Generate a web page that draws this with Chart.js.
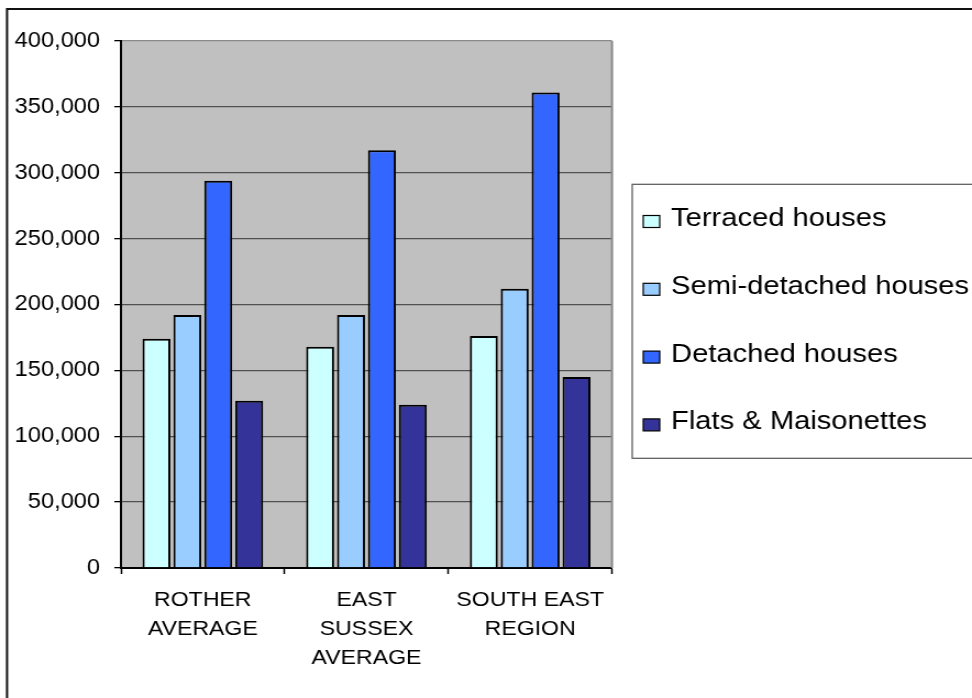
<!DOCTYPE html>
<html>
<head>
<meta charset="utf-8">
<script src="https://cdn.jsdelivr.net/npm/chart.js@4/dist/chart.umd.min.js"></script>
<style>
  html, body { margin: 0; padding: 0; background: #ffffff; overflow: hidden; }
</style>
</head>
<body>
<canvas id="c" width="884" height="698" style="display:block;width:972px;height:698px"></canvas>
<script>
// Average house prices by property type
const categories = [["ROTHER", "AVERAGE"], ["EAST", "SUSSEX", "AVERAGE"], ["SOUTH EAST", "REGION"]];
const seriesNames = ["Terraced houses", "Semi-detached houses", "Detached houses", "Flats & Maisonettes"];
const terraced = [174000, 168000, 176000];
const semiDetached = [192000, 192000, 212000];
const detached = [294000, 317000, 361000];
const flats = [127000, 124000, 145000];
const yTicks = [0, 50000, 100000, 150000, 200000, 250000, 300000, 350000, 400000];

const colours = ["#CCFFFF", "#99CCFF", "#3366FF", "#333399"];
const FONT = "'Liberation Sans', Arial, sans-serif";

// Frame, plot background and outer border
const framePlugin = {
  id: "frame",
  beforeDraw(chart) {
    const { ctx, chartArea: a, width, height } = chart;
    ctx.save();
    ctx.fillStyle = "#ffffff";
    ctx.fillRect(0, 0, width, height);
    ctx.fillStyle = "#C0C0C0";
    ctx.fillRect(a.left, a.top, a.right - a.left, a.bottom - a.top);
    ctx.strokeStyle = "#111111";
    ctx.lineWidth = 2;
    ctx.beginPath();
    ctx.moveTo(width + 2, 9);
    ctx.lineTo(6.4, 9);
    ctx.lineTo(6.4, height + 2);
    ctx.stroke();
    ctx.restore();
  },
  afterDatasetsDraw(chart) {
    const { ctx, chartArea: a } = chart;
    ctx.save();
    ctx.strokeStyle = "#8a8a8a";
    ctx.lineWidth = 2;
    ctx.beginPath();
    ctx.moveTo(a.right, a.top);
    ctx.lineTo(a.right, a.bottom);
    ctx.stroke();
    ctx.restore();
  }
};

// Boxed legend on the right
const legendBox = {
  id: "legendBox",
  afterDraw(chart) {
    const { ctx, width } = chart;
    ctx.save();
    ctx.strokeStyle = "#555555";
    ctx.lineWidth = 1.2;
    ctx.strokeRect(575, 184.3, width + 10 - 575, 458.3 - 184.3);
    ctx.font = "26.5px " + FONT;
    ctx.textBaseline = "alphabetic";
    ctx.textAlign = "left";
    chart.data.datasets.forEach((ds, i) => {
      const base = 226 + i * 67.8;
      ctx.fillStyle = ds.backgroundColor;
      ctx.fillRect(585, base - 10.5, 15, 12);
      ctx.strokeStyle = "#000000";
      ctx.lineWidth = 1.2;
      ctx.strokeRect(585, base - 10.5, 15, 12);
      ctx.fillStyle = "#000000";
      ctx.fillText(ds.label, 610.3, base);
    });
    ctx.restore();
  }
};

const seriesValues = [terraced, semiDetached, detached, flats];

new Chart(document.getElementById("c"), {
  type: "bar",
  data: {
    labels: categories,
    datasets: seriesNames.map((name, i) => ({
      label: name,
      data: seriesValues[i],
      backgroundColor: colours[i],
      borderColor: "#000000",
      borderWidth: 2,
      borderSkipped: "bottom",
      barPercentage: 0.905,
      categoryPercentage: 0.755
    }))
  },
  options: {
    responsive: false,
    devicePixelRatio: 1,
    animation: false,
    layout: { padding: { left: 0, top: 41, right: 884 - 556.6, bottom: 0 } },
    plugins: {
      legend: { display: false },
      tooltip: { enabled: false }
    },
    scales: {
      x: {
        grid: {
          offset: true,
          drawOnChartArea: false,
          drawTicks: true,
          tickLength: 6,
          tickColor: "#000000",
          tickWidth: 1.5
        },
        border: { display: true, color: "#000000", width: 2 },
        ticks: {
          color: "#000000",
          font: { family: FONT, size: 21, lineHeight: 1.38 },
          padding: 12,
          maxRotation: 0,
          minRotation: 0,
          autoSkip: false
        },
        afterFit(scale) { scale.height = 130; }
      },
      y: {
        min: 0,
        max: 400000,
        afterBuildTicks(scale) { scale.ticks = yTicks.map(v => ({ value: v })); },
        grid: {
          color: (c) => c.tick && c.tick.value === 400000 ? "#8a8a8a" : "#505050",
          lineWidth: 1.3,
          drawTicks: true,
          tickLength: 6,
          tickColor: "#000000"
        },
        border: { display: true, color: "#000000", width: 2 },
        ticks: {
          color: "#000000",
          font: { family: FONT, size: 21.5 },
          padding: 13,
          callback: (v) => Number(v).toLocaleString("en-US")
        },
        afterFit(scale) { scale.width = 110; }
      }
    }
  },
  plugins: [framePlugin, legendBox]
});
</script>
</body>
</html>
